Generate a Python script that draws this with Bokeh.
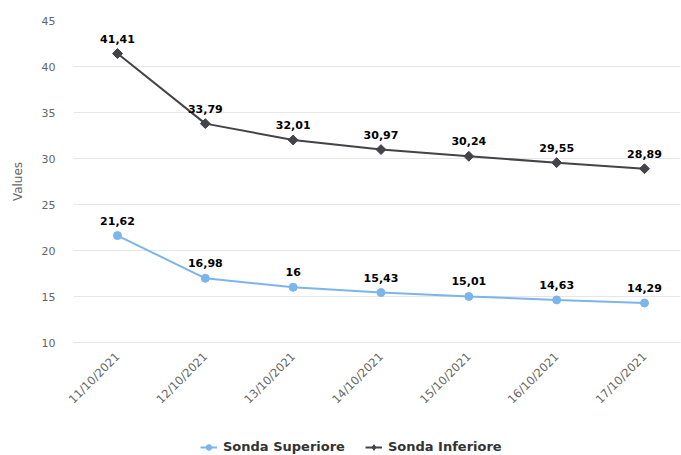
from bokeh.plotting import figure
from bokeh.layouts import column
from bokeh.models import ColumnDataSource, FixedTicker, Legend, LegendItem
from bokeh.core.properties import value
from bokeh.embed import file_html
from bokeh.resources import INLINE
import math

dates = ["11/10/2021", "12/10/2021", "13/10/2021", "14/10/2021",
         "15/10/2021", "16/10/2021", "17/10/2021"]
superiore = [21.62, 16.98, 16, 15.43, 15.01, 14.63, 14.29]
inferiore = [41.41, 33.79, 32.01, 30.97, 30.24, 29.55, 28.89]
y_ticks = [10, 15, 20, 25, 30, 35, 40, 45]
series_names = ["Sonda Superiore", "Sonda Inferiore"]

FONT = "DejaVu Sans"
BLUE = "#7cb5ec"
DARK = "#434348"

def fmt(v):
    return f"{v:g}".replace(".", ",")

xs = list(range(len(dates)))
src_s = ColumnDataSource(dict(x=xs, y=superiore, lab=[fmt(v) for v in superiore]))
src_i = ColumnDataSource(dict(x=xs, y=inferiore, lab=[fmt(v) for v in inferiore]))

p = figure(width=681, height=430, output_backend="svg", toolbar_location=None,
           x_range=(-0.501, 6.41), y_range=(10, 45),
           min_border_left=73, min_border_right=1, min_border_top=20,
           min_border_bottom=88)
p.outline_line_color = None
p.background_fill_color = "white"

# grid
p.xgrid.grid_line_color = None
p.ygrid.grid_line_color = "#e6e6e6"
p.ygrid.grid_line_width = 1

# y axis
p.yaxis.ticker = FixedTicker(ticks=y_ticks)
p.yaxis.axis_line_color = None
p.yaxis.major_tick_line_color = None
p.yaxis.minor_tick_line_color = None
p.yaxis.major_tick_out = 0
p.yaxis.major_label_standoff = 18
p.yaxis.major_label_text_font = FONT
p.yaxis.major_label_text_font_size = "11px"
p.yaxis.major_label_text_color = "#666666"
p.yaxis.axis_label = "Values"
p.yaxis.axis_label_text_font = FONT
p.yaxis.axis_label_text_font_size = "12px"
p.yaxis.axis_label_text_font_style = "normal"
p.yaxis.axis_label_text_color = "#666666"
p.yaxis.axis_label_standoff = 14

# x axis
p.xaxis.ticker = FixedTicker(ticks=xs)
p.xaxis.major_label_overrides = {i: d for i, d in zip(xs, dates)}
p.xaxis.axis_line_color = "#e6e6e6"
p.xaxis.major_tick_line_color = None
p.xaxis.minor_tick_line_color = None
p.xaxis.major_tick_out = 0
p.xaxis.major_label_standoff = 12
p.xaxis.major_label_orientation = math.pi / 4
p.xaxis.major_label_text_font = FONT
p.xaxis.major_label_text_font_size = "11.5px"
p.xaxis.major_label_text_color = "#666666"

def draw(fig, labels, dmarker, dsize, dangle):
    l1 = fig.line("x", "y", source=src_s, line_color=BLUE, line_width=2)
    m1 = fig.scatter("x", "y", source=src_s, marker="circle", size=8,
                     fill_color=BLUE, line_color=BLUE)
    l2 = fig.line("x", "y", source=src_i, line_color=DARK, line_width=2)
    m2 = fig.scatter("x", "y", source=src_i, marker=dmarker, size=dsize,
                     angle=dangle, fill_color=DARK, line_color=DARK)
    if labels:
        for src in (src_s, src_i):
            fig.text("x", "y", text="lab", source=src, text_align="center",
                     text_baseline="bottom", y_offset=-11,
                     text_font=value(FONT), text_font_size="11px",
                     text_font_style="bold", text_color="#000000")
    return (l1, m1), (l2, m2)

draw(p, True, "square", 7, math.pi / 4)

# legend strip below the chart
lg = figure(width=681, height=25, output_backend="svg", toolbar_location=None,
            x_range=(100, 101), y_range=(100, 101),
            min_border_left=0, min_border_right=0, min_border_top=0,
            min_border_bottom=0)
lg.axis.visible = False
lg.grid.visible = False
lg.outline_line_color = None
r_s, r_i = draw(lg, False, "diamond", 10, 0)

legend = Legend(items=[LegendItem(label=series_names[0], renderers=list(r_s)),
                       LegendItem(label=series_names[1], renderers=list(r_i))],
                orientation="horizontal", location=(127, 1),
                padding=0, margin=0, spacing=20, glyph_width=17, glyph_height=14,
                label_standoff=6, label_height=14,
                border_line_color=None, background_fill_alpha=0,
                label_text_font=FONT, label_text_font_size="13px",
                label_text_font_style="bold", label_text_color="#333333")
lg.add_layout(legend, "center")

open("out.html", "w").write(file_html(column(p, lg, spacing=0), INLINE))
